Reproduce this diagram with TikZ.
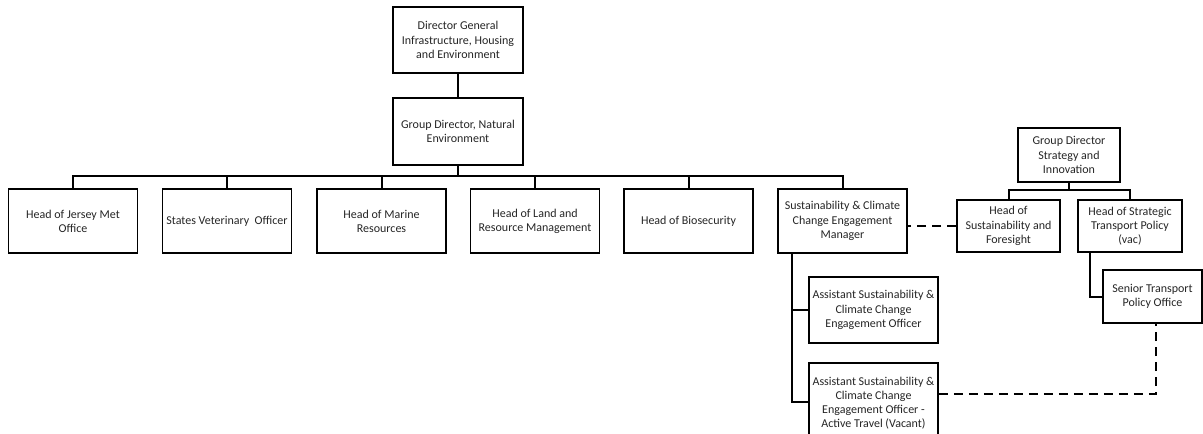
\documentclass[tikz,border=0pt]{standalone}
\usepackage{fontspec}
\setmainfont{Carlito}
\begin{document}
\begin{tikzpicture}[x=1pt,y=-1pt,
  box/.style={draw=black,line width=1.8pt,fill=white,align=center,inner sep=1pt,
    font=\fontsize{12}{14.2}\selectfont,text=black!85},
  link/.style={draw=black,line width=2pt},
  dotlink/.style={draw=black,line width=2pt,dash pattern=on 9pt off 6pt}]
\useasboundingbox (0,0) rectangle (1203,434);
% top
\node[box,minimum width=130pt,minimum height=66pt] (dg) at (458,40) {Director General\\Infrastructure, Housing\\and Environment};
\node[box,minimum width=130pt,minimum height=67pt] (gdne) at (458,131.5) {Group Director, Natural\\Environment};
% row
\node[box,minimum width=129pt,minimum height=64pt] (b1) at (73,221) {Head of Jersey Met\\Office};
\node[box,minimum width=129pt,minimum height=64pt] (b2) at (227,221) {States Veterinary~ Officer};
\node[box,minimum width=129pt,minimum height=64pt] (b3) at (381.5,221) {Head of Marine\\Resources};
\node[box,minimum width=129pt,minimum height=64pt] (b4) at (535,221) {Head of Land and\\Resource Management};
\node[box,minimum width=129pt,minimum height=64pt] (b5) at (688.5,221) {Head of Biosecurity};
\node[box,minimum width=129pt,minimum height=64pt] (b6) at (842.5,221) {Sustainability \& Climate\\Change Engagement\\Manager};
% right group
\node[box,minimum width=102pt,minimum height=54pt] (gds) at (1069,155) {Group Director\\Strategy and\\Innovation};
\node[box,minimum width=103pt,minimum height=52pt] (hsf) at (1008.5,226) {Head of\\Sustainability and\\Foresight};
\node[box,minimum width=104pt,minimum height=52pt] (hst) at (1130,226) {Head of Strategic\\Transport Policy\\(vac)};
\node[box,minimum width=99pt,minimum height=53pt] (st) at (1152.5,296.5) {Senior Transport\\Policy Office};
% assistants
\node[box,minimum width=129pt,minimum height=66pt] (a1) at (873.5,310) {Assistant Sustainability \&\\Climate Change\\Engagement Officer};
\node[box,minimum width=129pt,minimum height=80pt] (a2) at (873.5,403) {Assistant Sustainability \&\\Climate Change\\Engagement Officer -\\Active Travel (Vacant)};
% connectors
\coordinate (busy) at (0,176);
\coordinate (busr) at (0,190);
\draw[link] (dg.south) -- (gdne.north);
\foreach \b in {b1,b2,b3,b4,b5,b6}{
  \draw[link] (gdne.south) |- (\b.north |- busy) -- (\b.north);
}
\draw[link] (gds.south) |- (hsf.north |- busr) -- (hsf.north);
\draw[link] (gds.south) |- (hst.north |- busr) -- (hst.north);
\draw[link] ([xshift=-40pt]hst.south) |- (st.west);
\draw[link] ([xshift=-50.5pt]b6.south) |- (a1.west);
\draw[link] ([xshift=-50.5pt]b6.south) |- ([yshift=1pt]a2.west);
\draw[dotlink] (hsf.west) -- (hsf.west -| b6.east);
\draw[dotlink] ([yshift=9pt]a2.east) -| ([xshift=3.5pt]st.south);
\end{tikzpicture}
\end{document}
